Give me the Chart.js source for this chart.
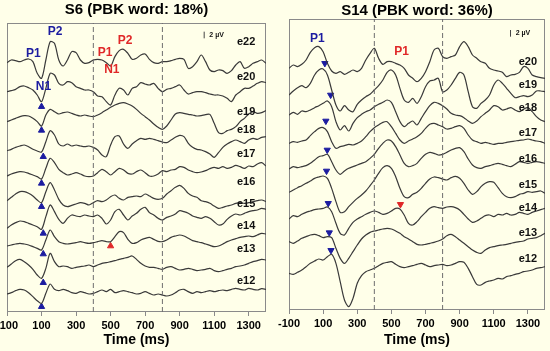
<!DOCTYPE html>
<html><head><meta charset="utf-8">
<script src="https://cdn.jsdelivr.net/npm/chart.js@4.4.1/dist/chart.umd.min.js"></script>
<style>
html,body{margin:0;padding:0;background:#FFFFE9;width:550px;height:351px;overflow:hidden}
canvas{position:absolute;top:0}
#c1{left:0}#c2{left:275px}
</style></head><body>
<canvas id="c1" width="275" height="351"></canvas>
<canvas id="c2" width="275" height="351"></canvas>
<script>
// ---------- shared axis data ----------
const TIME = [-100,-75,-50,-25,0,25,50,75,100,125,150,175,200,225,250,275,300,325,350,375,400,425,450,475,500,525,550,575,600,625,650,675,700,725,750,775,800,825,850,875,900,925,950,975,1000,1025,1050,1075,1100,1125,1150,1175,1200,1225,1250,1275,1300,1325,1350,1375,1400];
const TICKS = [-100,100,300,500,700,900,1100,1300];
const EPOCH_LINES = [400,800];

// ---------- S6 (PBK word: 18%) : amplitudes in µV ----------
const S6_CHANNELS = ['e22','e20','e19','e18','e17','e16','e15','e14','e13','e12'];
const S6_OFFSETS  = [74.8,66.1,57.1,48.6,40.6,33.6,25.1,19.8,13.1,5.4];
const S6_E22 = [0,0.8,0.6,0.3,0.8,1.1,0.3,-3.2,-4.7,0.8, 6.3,5.8,0.8,-1.0,0.8,3.3,3.0,0.8,-0.2,0, 0.8,1.0,0.8,0,-1.0,1.8,3.6,4.0,2.8,1.0, 1.3,2.3,2.6,1.0,0,-0.2,0.3,0.3,0.6,1.0, 1.3,1.0,-1.7,-1.2,0.3,2.3,0.3,-2.2,-2.7,-2.2, -2.4,-3.2,-2.4,-0.7,0.3,-1.7,-1.2,-0.2,0.3,0.8, -0.2];
const S6_E20 = [0,0.3,0.7,1.5,1.7,1.2,0.5,-1.0,-3.0,1.0, 5.5,5.0,2.5,2.0,3.0,2.7,1.5,1.0,0.5,0.5, 0,-1.3,-1.5,-3.0,-4.0,-1.0,1.0,0.5,-1.0,1.0, 1.5,2.7,2.3,2.0,2.5,1.0,0,0.7,1.0,1.5, 2.0,0.5,-0.7,-0.3,0,0,-0.3,-0.7,-1.0,-1.0, -1.3,-2.0,-3.0,-1.0,0,1.0,1.0,1.7,2.5,3.0, 2.7];
const S6_E19 = [0,0.5,1.0,1.5,1.8,1.7,1.0,0,-1.3,2.0, 3.7,3.0,2.3,2.7,2.9,2.5,2.0,1.7,2.0,1.7, 1.5,2.0,2.7,3.5,4.3,5.0,5.5,5.7,5.3,4.7, 3.7,2.5,1.5,0.5,-0.7,-1.7,-2.3,-1.3,0.5,2.3, 2.7,2.5,2.2,2.0,1.7,1.8,2.1,2.2,-0.5,-3.3, -3.5,-2.7,-2.3,-1.5,0,1.0,2.3,3.0,2.5,2.7, 3.3];
const S6_E18 = [-0.2,0.2,0.8,1.2,1.5,1.0,0.2,-0.3,-0.6,2.5, 5.8,4.5,1.8,1.2,1.8,1.2,1.5,1.2,1.0,1.2, 0.8,0,-1.5,-2.0,1.5,4.0,4.2,1.8,0.5,1.8, 2.8,3.5,3.2,3.5,3.2,2.8,2.4,2.2,3.0,3.8, 4.4,4.0,2.0,0.8,0.2,0,-0.5,-1.2,-2.2,-0.8, 0.8,1.8,2.5,3.0,2.5,2.0,3.0,3.5,3.2,3.8, 4.0];
const S6_E17 = [0.2,0.8,1.2,1.5,1.4,1.0,0.5,0,-0.7,2.5, 5.5,4.2,2.2,1.2,0.5,0.8,1.2,0.8,0.2,0, 0.2,1.2,2.2,1.5,0.5,1.5,2.5,2.0,1.0,0.8, 1.5,2.0,1.2,0.2,0.2,0.8,1.8,1.5,2.0,2.2, 3.0,2.8,2.0,1.5,1.2,1.4,1.8,2.4,2.8,2.5, 3.0,2.5,2.8,3.4,3.0,2.5,3.2,3.0,3.8,4.2, 3.2];
const S6_E16 = [-0.2,0.8,1.8,2.5,2.5,2.0,1.2,0,-0.8,2.5, 5.2,3.0,0.2,-1.5,-2.0,-1.6,-1.2,-0.8,-1.0,-1.5, -0.8,-0.2,-0.5,0,1.0,1.5,0.5,0,0.8,1.0, 1.2,1.0,1.8,1.2,0.5,0.2,0.5,1.8,2.8,3.8, 4.4,3.5,2.0,1.2,0.8,-0.2,-0.5,-1.0,-1.8,-2.5, -2.2,-1.8,-1.5,-1.0,-0.8,-1.0,-0.8,-0.5,-0.2,0, -0.5];
const S6_E15 = [0,1.0,1.7,2.2,2.0,1.5,1.0,0.5,-0.3,3.5, 7.0,5.0,2.7,1.5,3.0,4.0,3.7,3.5,4.0,3.7, 3.5,4.0,3.0,1.3,2.5,5.0,5.7,4.0,2.5,3.7, 4.5,5.7,6.3,4.7,4.0,3.0,2.5,3.3,3.7,4.3, 5.3,5.0,4.5,3.7,3.3,3.0,3.5,3.0,2.0,1.0, 1.3,2.7,3.7,4.3,4.0,4.5,5.0,5.3,5.5,6.0, 5.7];
const S6_E14 = [0,0.3,0.6,0.8,0.6,0.3,-0.2,-0.7,-1.2,1.8, 4.8,2.8,1.3,0.8,0.6,0.8,1.0,1.3,1.0,0.8, 1.0,1.3,1.6,1.3,1.3,2.8,4.3,4.0,2.0,0.8, 1.0,1.8,2.3,2.6,2.0,1.4,1.3,1.8,2.6,3.0, 3.3,3.0,2.3,1.6,1.3,1.0,0.6,0.2,-0.2,0, 0.6,1.3,1.8,2.2,2.6,2.8,3.0,2.8,3.3,3.8, 3.6];
const S6_E13 = [0.3,1.3,2.3,2.7,2.0,1.0,-0.3,-2.0,-3.0,0, 4.5,2.0,0.5,0.7,0.5,0,0.3,0.5,0.7,1.0, 0.5,1.0,1.5,1.7,2.0,2.3,2.7,3.0,3.3,3.7, 2.7,1.5,0.7,0.3,0.3,0,-0.3,0.3,0.5,0, -0.5,-0.3,0,-0.3,-0.7,-0.5,-0.3,0,-0.7,-1.0, -0.7,-0.3,0,0.5,0.7,1.0,1.5,2.0,2.3,2.7, 2.5];
const S6_E12 = [0,0.4,1.0,1.4,1.2,0.4,-0.8,-2.0,-2.8,0.2, 3.0,1.4,1.0,1.4,1.0,0.4,0.2,0.7,0.4,0, 0.2,0.7,1.2,0.7,1.4,0.4,0.7,1.0,0.7,0.4, 0,0.2,0.7,0.2,-0.3,0,-0.3,-0.6,-0.3,0.4, 1.2,1.4,0.7,0.2,0.7,0.4,0.7,1.0,0.7,1.0, 1.2,1.0,1.4,1.7,1.4,1.2,1.7,1.4,1.2,1.6, 1.4];
const S6_N1_TIMES  = [100,100,110,100,100,110,110,110,100];
const S6_N1_LEVELS = [61.6,54.5,46.6,38.6,31.6,23.6,17.4,8.8,1.6];
const S6_RED_TIME = [500], S6_RED_LEVEL = [19.8];
const S6_LABEL_LEVELS = [81.0,70.5,60.0,54.6,47.3,38.9,32.3,25.7,18.9,9.2];

// ---------- S14 (PBK word: 36%) : amplitudes in µV ----------
const S14_CHANNELS = ['e20','e19','e18','e17','e16','e15','e14','e13','e12'];
const S14_OFFSETS  = [72.5,64.5,58.5,50.0,42.5,35.5,27.5,20.5,11.0];
const S14_E20 = [0,1.0,0.5,1.2,2.5,4.8,6.2,6.5,5.0,1.5, -0.8,-1.5,-1.0,-1.8,-1.2,-0.5,-1.0,0,2.5,4.5, 6.0,3.0,1.2,2.0,2.0,1.5,1.0,0,-2.0,-3.0, -4.0,-3.0,-1.0,2.0,5.5,6.0,3.5,3.0,3.5,4.0, 6.5,8.0,6.5,4.0,3.0,2.0,1.5,0,-0.5,-0.8, -1.2,-2.5,-2.0,-1.8,-1.2,0.5,0,-2.0,-2.5,-2.8, -3.0];
const S14_E19 = [0,1.2,2.2,2.8,2.2,3.5,6.0,7.5,7.8,6.0, 1.5,-3.0,-4.8,-3.2,-4.5,-5.0,-2.8,-1.5,-0.5,0.2, 1.5,2.8,4.5,6.8,7.5,6.0,2.0,-1.5,-2.2,-1.0, -2.5,-0.5,2.5,4.2,4.5,5.0,1.0,1.5,3.0,5.0, 6.8,6.0,1.0,-3.5,-4.0,-2.5,-1.5,0,3.0,4.5, 3.5,2.0,0.5,-0.8,-0.5,-0.2,-0.5,0,1.2,1.2, 1.0];
const S14_E18 = [0,0.8,0.2,1.2,1.0,1.5,2.2,2.8,3.5,4.2, 2.5,-2.0,-4.5,-3.2,-4.8,-2.5,-0.8,0.2,1.0,1.5, 2.5,3.2,3.8,4.5,3.8,1.0,-2.0,-3.5,-2.5,-1.8, -3.0,-1.0,1.0,2.8,3.8,3.5,2.8,1.8,0.5,0, -0.2,-0.8,-1.8,-2.5,-1.8,-0.5,0.5,1.5,2.8,2.5, 1.5,1.8,2.2,1.5,1.0,1.8,2.2,1.0,-0.5,-1.5, -2.0];
const S14_E17 = [0,0.5,0.3,0.7,1.0,2.3,3.5,4.5,4.7,3.5, 0.5,-1.5,-1.0,-0.7,-0.3,-0.5,0,0.7,2.0,3.5, 4.7,5.5,6.3,6.5,5.0,3.0,1.0,0,0.7,1.3, 2.0,3.0,4.5,5.7,6.0,5.5,5.0,4.3,4.5,5.0, 5.3,4.5,2.5,1.0,0.5,0,0.3,0,-0.3,0, 0,0.3,0.5,0.7,0.9,1.0,1.3,1.0,0.7,0.5, 0];
const S14_E16 = [-0.2,0.5,0.2,0.5,0.8,1.5,2.5,3.5,3.8,4.2, 2.0,-0.5,-1.8,-0.8,0,0.5,1.0,1.5,2.0,3.0, 4.2,6.0,7.5,8.5,8.2,6.5,4.0,1.5,0.5,0.8, 1.5,3.0,4.2,4.8,4.5,4.0,4.2,4.8,5.5,6.0, 6.2,5.0,2.8,1.0,0.2,0,0.5,0.8,1.2,1.5, 1.2,0.8,0.5,1.2,2.0,1.8,1.5,1.8,2.0,1.8, 1.5];
const S14_E15 = [-0.2,0.5,1.2,1.8,2.5,3.2,4.0,4.4,4.7,4.0, 1.0,-3.0,-6.2,-6.0,-4.5,-3.2,-2.0,-1.0,0.2,1.8, 3.5,5.5,7.2,7.8,7.0,4.5,1.0,-1.5,-1.8,-0.8, -0.2,1.0,2.5,3.8,4.4,4.2,3.8,3.5,4.2,4.6, 4.0,2.5,0.5,-0.8,0,1.5,2.5,3.0,2.8,1.2, -0.5,-1.5,-1.8,-1.5,-0.8,-0.5,0,-0.2,0,0.2, -0.5];
const S14_E14 = [-0.2,0.8,0.5,1.2,1.8,2.2,2.6,2.8,3.0,3.4, 2.0,-1.5,-4.5,-5.0,-3.0,-1.2,-0.2,0.5,1.2,1.8, 2.2,1.8,1.2,1.5,2.2,3.0,2.8,1.0,-1.5,-2.0, -1.0,0.5,1.8,3.0,3.5,3.2,3.0,3.4,3.5,3.2, 2.5,1.2,-0.2,-1.2,-0.8,0,0.8,1.0,0.5,1.2, 1.0,1.5,1.0,1.2,1.8,1.5,1.2,1.8,2.2,2.6, 3.0];
const S14_E13 = [0,-0.5,0.2,1.0,1.5,2.0,2.2,1.8,1.2,1.5, 1.2,-2.0,-5.0,-6.5,-5.0,-3.0,-1.0,0.8,2.0,2.8, 3.2,3.5,3.8,4.0,3.8,3.2,2.5,1.5,0.8,0, -0.8,-1.0,-0.8,-0.5,-0.2,0.2,0.8,1.8,2.2,1.5, 0.5,-0.5,-1.5,-2.5,-3.2,-3.5,-2.5,-1.8,-1.5,-1.2, -1.0,-0.8,-0.5,-0.2,0,0.2,0.8,1.0,1.2,1.8, 2.5];
const S14_E12 = [0,-0.3,0.3,1.0,2.0,3.0,3.7,4.3,4.0,5.0, 5.7,3.0,-2.5,-8.0,-10.0,-7.5,-3.0,-0.7,0.5,1.0, 1.5,2.3,3.0,3.3,3.5,2.7,2.0,1.7,2.0,2.3, 2.7,3.0,2.5,2.0,2.3,2.5,2.7,2.3,2.5,3.0, 3.5,3.3,1.5,-1.0,-3.3,-3.5,-2.7,-2.3,-2.0,-1.5, -1.7,-1.0,-0.7,-0.3,0,0.5,0.7,1.0,1.5,1.7, 2.0];
const S14_P1_TIMES  = [110,144,116,124,120,130,136,146];
const S14_P1_LEVELS = [74.0,64.5,56.7,48.0,41.7,32.0,23.2,17.9];
const S14_RED_TIME = [553], S14_RED_LEVEL = [31.7];
const S14_LABEL_LEVELS = [74.5,67.5,60.5,53.0,45.3,37.5,30.5,23.0,15.3];

// ---------- drawing ----------
const FONT = 'Arial, "Liberation Sans", sans-serif';
const BLUE = '#1c1ca0', RED = '#e02828';

const annotPlugin = {
  id: 'annot',
  beforeDatasetsDraw(chart) {
    const {ctx, chartArea: a} = chart;
    ctx.save();
    ctx.strokeStyle = '#8a8a8a'; ctx.lineWidth = 1;
    ctx.strokeRect(Math.round(a.left) + 0.5, Math.round(a.top) + 0.5, Math.round(a.right - a.left) - 1, Math.round(a.bottom - a.top) - 1);
    ctx.restore();
  },
  afterDatasetsDraw(chart, args, opts) {
    const {ctx, scales: {x, y}} = chart;
    ctx.save();
    ctx.textBaseline = 'middle';
    for (const t of opts.texts) {
      ctx.font = t.font; ctx.fillStyle = t.color; ctx.textAlign = t.align || 'center';
      ctx.fillText(t.text, x.getPixelForValue(t.t), y.getPixelForValue(t.v));
    }
    ctx.restore();
  }
};

function buildPanel(canvasId, p) {
  const datasets = [];
  EPOCH_LINES.forEach(tm => datasets.push({
    data: [{x: tm, y: 0}, {x: tm, y: p.ymax}],
    borderColor: '#6e6e6e', borderWidth: 1, borderDash: [5, 3], pointRadius: 0
  }));
  p.channels.forEach((name, i) => datasets.push({
    label: name,
    data: TIME.map((t, k) => ({x: t, y: p.offsets[i] + p.values[i][k]})),
    borderColor: '#3a3a3a', borderWidth: 1.2, pointRadius: 0, tension: 0.3
  }));
  datasets.push({
    data: p.triTimes.map((t, i) => ({x: t, y: p.triLevels[i]})),
    showLine: false, pointStyle: 'triangle', pointRadius: 3.6, pointRotation: p.triRot,
    pointBackgroundColor: BLUE, pointBorderColor: BLUE, pointBorderWidth: 1
  });
  datasets.push({
    data: p.redTimes.map((t, i) => ({x: t, y: p.redLevels[i]})),
    showLine: false, pointStyle: 'triangle', pointRadius: 3.6, pointRotation: p.triRot,
    pointBackgroundColor: RED, pointBorderColor: RED, pointBorderWidth: 1
  });
  // 2 µV calibration bar
  datasets.push({
    data: [{x: p.barT, y: p.barV}, {x: p.barT, y: p.barV + 2}],
    borderColor: '#444', borderWidth: 1, pointRadius: 0
  });

  const texts = p.channels.map((name, i) => ({
    text: name, t: p.labelT, v: p.labelLevels[i], color: '#111', font: 'bold 11px ' + FONT
  }));
  texts.push({text: '2 \u00b5V', t: p.barT + 30, v: p.barV + 1, color: '#111', font: 'bold 7px ' + FONT, align: 'left'});
  p.peakTexts.forEach(q => texts.push({text: q[0], t: q[1], v: q[2], color: q[3], font: 'bold 12px ' + FONT}));

  return new Chart(document.getElementById(canvasId), {
    type: 'line',
    data: {datasets},
    plugins: [annotPlugin],
    options: {
      responsive: false, animation: false, devicePixelRatio: 1,
      layout: {padding: {left: p.padL, right: p.padR, top: 0, bottom: 0}},
      plugins: {
        legend: {display: false}, tooltip: {enabled: false},
        title: {display: true, text: p.title, color: '#000',
          font: {family: FONT, size: 15, weight: 'bold', lineHeight: 1},
          padding: {top: p.tTop, bottom: p.tBot}},
        annot: {texts}
      },
      scales: {
        x: {
          type: 'linear', min: -100, max: 1400,
          afterBuildTicks: s => { s.ticks = TICKS.map(v => ({value: v})); },
          afterFit: s => { s.height = p.axisH; s.paddingLeft = 0; s.paddingRight = 0; },
          ticks: {font: {family: FONT, size: 11, weight: 'bold'}, color: '#000', padding: 3, maxRotation: 0, autoSkip: false,
            callback: v => String(v)},
          grid: {drawOnChartArea: false, drawTicks: true, tickLength: 4, color: '#8a8a8a'},
          border: {display: false},
          title: {display: true, text: 'Time (ms)', color: '#000',
            font: {family: FONT, size: 14, weight: 'bold'}, padding: {top: 0, bottom: 2}}
        },
        y: {type: 'linear', min: 0, max: p.ymax, display: false}
      }
    }
  });
}

buildPanel('c1', {
  title: 'S6 (PBK word: 18%)', padL: 7, padR: 9, tTop: 2, tBot: 6, axisH: 39, ymax: 86.7,
  channels: S6_CHANNELS, offsets: S6_OFFSETS,
  values: [S6_E22, S6_E20, S6_E19, S6_E18, S6_E17, S6_E16, S6_E15, S6_E14, S6_E13, S6_E12],
  triTimes: S6_N1_TIMES, triLevels: S6_N1_LEVELS, triRot: 0,
  redTimes: S6_RED_TIME, redLevels: S6_RED_LEVEL,
  labelT: 1285, labelLevels: S6_LABEL_LEVELS,
  barT: 1042, barV: 82.1,
  peakTexts: [['P1', 53, 77.6, BLUE], ['P2', 178, 84.1, BLUE], ['N1', 111, 67.6, BLUE],
              ['P1', 468, 77.9, RED], ['N1', 507, 72.8, RED], ['P2', 584, 81.4, RED]]
});

buildPanel('c2', {
  title: 'S14 (PBK word: 36%)', padL: 14, padR: 5, tTop: 3.5, tBot: 0.5, axisH: 41, ymax: 87.3,
  channels: S14_CHANNELS, offsets: S14_OFFSETS,
  values: [S14_E20, S14_E19, S14_E18, S14_E17, S14_E16, S14_E15, S14_E14, S14_E13, S14_E12],
  triTimes: S14_P1_TIMES, triLevels: S14_P1_LEVELS, triRot: 180,
  redTimes: S14_RED_TIME, redLevels: S14_RED_LEVEL,
  labelT: 1300, labelLevels: S14_LABEL_LEVELS,
  barT: 1198, barV: 82.0,
  peakTexts: [['P1', 66, 81.5, BLUE], ['P1', 559, 77.5, RED]]
});
</script></body></html>
